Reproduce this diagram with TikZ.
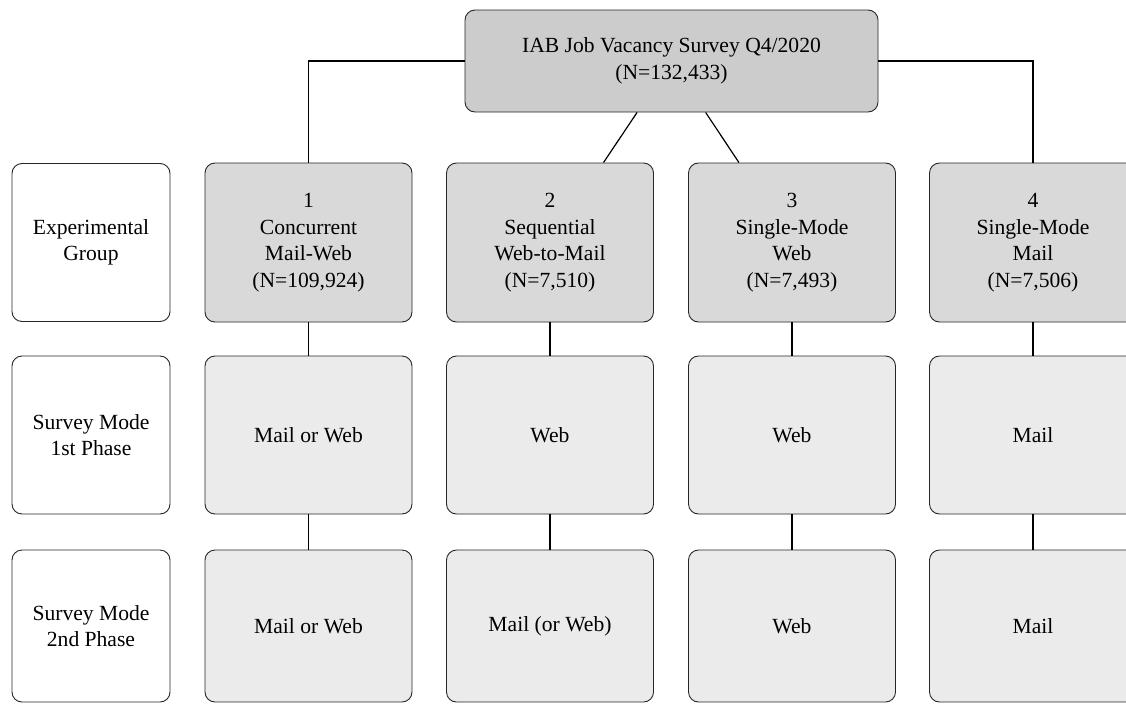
\documentclass[tikz,border=0pt]{standalone}
\usepackage{fontspec}
\setmainfont{Liberation Serif}
\usetikzlibrary{positioning}
\definecolor{topgray}{gray}{0.80}
\definecolor{grpgray}{gray}{0.85}
\definecolor{modegray}{gray}{0.92}
\tikzset{
  box/.style={draw=black!85,line width=0.9pt,rounded corners=10pt,align=center,inner sep=0pt,
    minimum width=207pt,minimum height=158pt,font=\fontsize{21.6}{26.5}\selectfont},
  labelbox/.style={box,fill=white,minimum width=158pt},
  grpbox/.style={box,fill=grpgray,minimum height=159pt},
  modebox/.style={box,fill=modegray},
  link/.style={line width=1.2pt}
}
\begin{document}
\begin{tikzpicture}[x=1pt,y=1pt]
  \useasboundingbox (0,0) rectangle (1126,-704);
  \clip (0,0) rectangle (1126,-704);
  % top node
  \node[box,fill=topgray,minimum width=413pt,minimum height=102pt] (survey) at (671.5,-61) {IAB Job Vacancy Survey Q4/2020\\(N=132,433)};
  % row labels
  \node[labelbox] (lgroup) at (91,-242.5) {Experimental\\Group};
  \node[labelbox] (lphase1) at (91,-435) {Survey Mode\\1st Phase};
  \node[labelbox,minimum height=152pt] (lphase2) at (91,-626) {Survey Mode\\2nd Phase};
  % experimental groups
  \node[grpbox] (g1) at (308.5,-242.5) {1\\Concurrent\\Mail-Web\\(N=109,924)};
  \node[grpbox] (g2) at (550,-242.5) {2\\Sequential\\Web-to-Mail\\(N=7,510)};
  \node[grpbox] (g3) at (792,-242.5) {3\\Single-Mode\\Web\\(N=7,493)};
  \node[grpbox] (g4) at (1033,-242.5) {4\\Single-Mode\\Mail\\(N=7,506)};
  % first phase
  \node[modebox] (a1) at (308.5,-435) {Mail or Web};
  \node[modebox] (a2) at (550,-435) {Web};
  \node[modebox] (a3) at (792,-435) {Web};
  \node[modebox] (a4) at (1033,-435) {Mail};
  % second phase
  \node[modebox,minimum height=152pt] (b1) at (308.5,-626) {Mail or Web};
  \node[modebox,minimum height=152pt] (b2) at (550,-626) {Mail (or Web)\strut};
  \node[modebox,minimum height=152pt] (b3) at (792,-626) {Web};
  \node[modebox,minimum height=152pt] (b4) at (1033,-626) {Mail};
  % connectors
  \draw[link] (survey.west) -| (g1.north);
  \draw[link] (survey.east) -| (g4.north);
  \draw[link] (survey) -- (g2);
  \draw[link] (survey) -- (g3);
  \foreach \i in {1,...,4} {
    \draw[link] (g\i) -- (a\i);
    \draw[link] (a\i) -- (b\i);
  }
\end{tikzpicture}
\end{document}
